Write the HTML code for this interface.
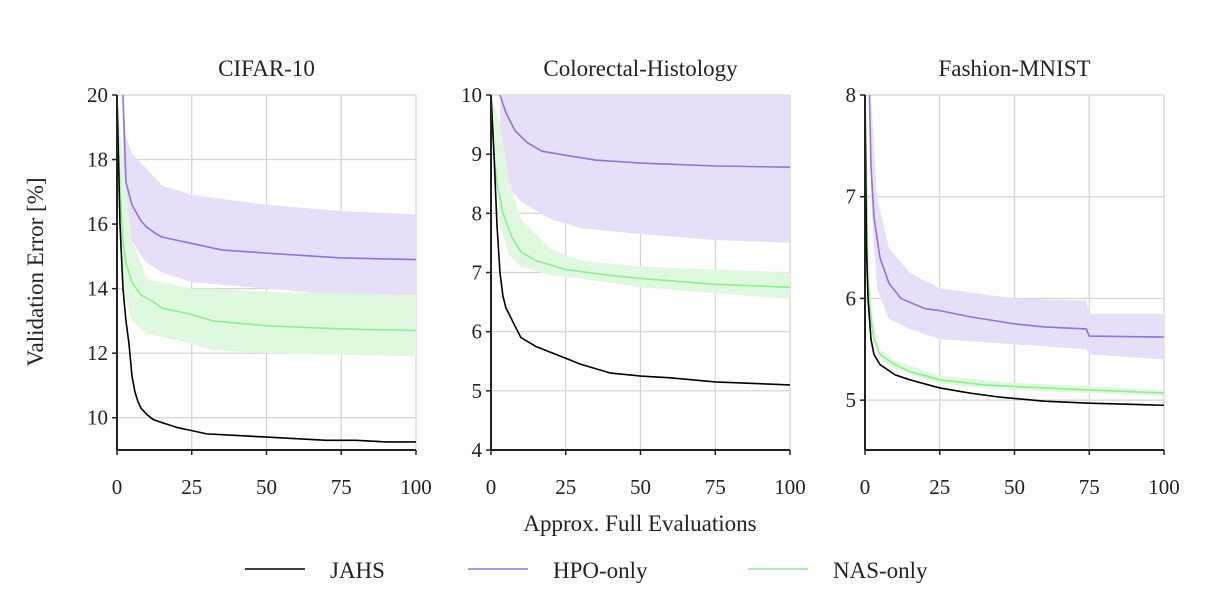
<!DOCTYPE html>
<html><head><meta charset="utf-8"><style>
body{margin:0;background:#fff}
svg text{font-family:"Liberation Serif","DejaVu Serif",serif;fill:#222}
</style></head><body>
<svg id="c" width="1212" height="607" xmlns="http://www.w3.org/2000/svg"></svg>
<script>
// ---- data ----
const xTicks=[0,25,50,75,100];
const panelTitles=["CIFAR-10","Colorectal-Histology","Fashion-MNIST"];
const yTicks0=[10,12,14,16,18,20], yTicks1=[4,5,6,7,8,9,10], yTicks2=[5,6,7,8];
// CIFAR-10
const c_jahs_x=[0,1,2,3,4,5,6,7,8,10,12,15,20,25,30,40,50,60,70,80,90,100];
const c_jahs_y=[20,16,14,13,12.3,11.3,10.8,10.5,10.3,10.1,9.95,9.85,9.7,9.6,9.5,9.45,9.4,9.35,9.3,9.3,9.25,9.25];
const c_hpo_x=[2,3,5,8,10,13,15,20,25,35,50,75,100];
const c_hpo_y=[20,17.3,16.6,16.1,15.9,15.7,15.6,15.5,15.4,15.2,15.1,14.95,14.9];
const c_hpo_bx=[2,3,5,8,10,15,25,50,75,100];
const c_hpo_hi=[20,18.7,18.2,17.9,17.7,17.2,16.9,16.6,16.4,16.3];
const c_hpo_lo=[17,16,15.5,15.0,14.8,14.5,14.2,14.0,13.8,13.6];
const c_nas_x=[0,1,2,3,5,8,12,15,20,25,32,50,75,100];
const c_nas_y=[20,17,15.5,14.8,14.2,13.8,13.6,13.4,13.3,13.2,13.0,12.85,12.75,12.7];
const c_nas_bx=[0,2,5,10,25,32,50,100];
const c_nas_hi=[20,18,15.5,14.3,14.0,14.0,13.9,13.8];
const c_nas_lo=[20,14,13,12.6,12.3,12.1,12.0,11.9];
// Colorectal
const h_jahs_x=[0,1,2,3,4,5,7,10,15,20,25,30,40,50,60,75,100];
const h_jahs_y=[10,9,7.8,7.0,6.6,6.4,6.2,5.9,5.75,5.65,5.55,5.45,5.3,5.25,5.22,5.15,5.1];
const h_hpo_x=[3,5,8,12,17,25,35,50,75,100];
const h_hpo_y=[10,9.7,9.4,9.2,9.05,8.98,8.9,8.85,8.8,8.78];
const h_hpo_bx=[3,5,10,20,30,50,75,100];
const h_hpo_hi=[10,10,10,10,10,10,10,10];
const h_hpo_lo=[9.0,8.5,8.2,7.9,7.75,7.65,7.55,7.5];
const h_nas_x=[0,1,2,4,7,10,15,25,40,50,75,100];
const h_nas_y=[10,9,8.5,8.0,7.6,7.35,7.2,7.05,6.95,6.9,6.8,6.75];
const h_nas_bx=[0,3,6,10,20,30,50,100];
const h_nas_hi=[10,9.5,8.6,7.9,7.4,7.2,7.1,7.0];
const h_nas_lo=[10,7.8,7.3,7.1,6.95,6.9,6.75,6.55];
// Fashion-MNIST
const f_jahs_x=[0,0.5,1,2,3,5,10,15,25,35,45,60,75,100];
const f_jahs_y=[8,6.5,6.0,5.6,5.45,5.35,5.25,5.2,5.12,5.07,5.03,4.99,4.97,4.95];
const f_hpo_x=[1.5,2,3,5,8,12,20,25,35,50,60,74,75,100];
const f_hpo_y=[8,7.3,6.8,6.4,6.15,6.0,5.9,5.88,5.82,5.75,5.72,5.7,5.63,5.62];
const f_hpo_bx=[2,4,8,15,25,50,74,75,100];
const f_hpo_hi=[8,7.0,6.5,6.25,6.1,6.0,5.98,5.85,5.85];
const f_hpo_lo=[7,6.1,5.8,5.7,5.6,5.55,5.5,5.45,5.4];
const f_nas_x=[0,1,2,3,5,10,15,25,40,60,75,100];
const f_nas_y=[8,6.2,5.8,5.6,5.45,5.35,5.28,5.2,5.15,5.12,5.1,5.07];
const f_nas_bx=[0,1,2,5,10,25,50,100];
const f_nas_hi=[8,6.4,5.9,5.5,5.39,5.24,5.17,5.1];
const f_nas_lo=[8,6.0,5.7,5.4,5.31,5.16,5.1,5.04];

const NS="http://www.w3.org/2000/svg", svg=document.getElementById('c');
function mk(t,a,p){const e=document.createElementNS(NS,t);for(const k in a)e.setAttribute(k,a[k]);(p||svg).appendChild(e);return e;}
const HPO="#9370db",NAS="#90ee90",HPOB="#e6dff7",NASB="#e0f7e0";
const panels=[
 {x0:117,ymin:9,ymax:20,yt:yTicks0,d:[[c_hpo_bx,c_hpo_hi,c_hpo_lo,HPOB],[c_nas_bx,c_nas_hi,c_nas_lo,NASB]],l:[[c_nas_x,c_nas_y,NAS],[c_hpo_x,c_hpo_y,HPO],[c_jahs_x,c_jahs_y,"#000"]]},
 {x0:491,ymin:4,ymax:10,yt:yTicks1,d:[[h_hpo_bx,h_hpo_hi,h_hpo_lo,HPOB],[h_nas_bx,h_nas_hi,h_nas_lo,NASB]],l:[[h_nas_x,h_nas_y,NAS],[h_hpo_x,h_hpo_y,HPO],[h_jahs_x,h_jahs_y,"#000"]]},
 {x0:865,ymin:4.51,ymax:8,yt:yTicks2,d:[[f_hpo_bx,f_hpo_hi,f_hpo_lo,HPOB],[f_nas_bx,f_nas_hi,f_nas_lo,NASB]],l:[[f_nas_x,f_nas_y,NAS],[f_hpo_x,f_hpo_y,HPO],[f_jahs_x,f_jahs_y,"#000"]]}
];
const T=95,B=450,W=299;
panels.forEach((p,i)=>{
 const g=mk('g',{});
 
 
 const sx=v=>p.x0+v/100*W, sy=v=>B-(v-p.ymin)/(p.ymax-p.ymin)*(B-T);
 const clip=mk('clipPath',{id:'cl'+i},g);mk('rect',{x:p.x0,y:T,width:W,height:B-T},clip);
 xTicks.forEach(v=>{const l=mk('line',{x1:sx(v),x2:sx(v),y1:T,y2:B,stroke:"#d3d3d3","stroke-width":1.2},g);
  
  const t=mk('text',{x:sx(v),y:494,"text-anchor":"middle","font-size":21},g);t.textContent=v;
  
  mk('line',{x1:sx(v),x2:sx(v),y1:B,y2:B+5,stroke:"#222","stroke-width":1.5},g);});
 p.yt.forEach(v=>{const l=mk('line',{x1:p.x0,x2:p.x0+W,y1:sy(v),y2:sy(v),stroke:"#d3d3d3","stroke-width":1.2},g);
  
  const t=mk('text',{x:p.x0-9,y:sy(v)+7,"text-anchor":"end","font-size":21},g);t.textContent=v;
  
  mk('line',{x1:p.x0-5,x2:p.x0,y1:sy(v),y2:sy(v),stroke:"#222","stroke-width":1.5},g);});
 const cg=mk('g',{"clip-path":`url(#cl${i})`},g);
 p.d.forEach(([xs,hi,lo,col])=>{
  const up=xs.map((x,k)=>sx(x)+','+sy(hi[k]));
  const dn=xs.map((x,k)=>sx(x)+','+sy(lo[k])).reverse();
  const e=mk('polygon',{points:up.concat(dn).join(' '),fill:col,stroke:"none"},cg);
  });
 p.l.forEach(([xs,ys,col])=>{
  const d=xs.map((x,k)=>(k?'L':'M')+sx(x)+','+sy(ys[k])).join('');
  const e=mk('path',{d:d,fill:"none",stroke:col,"stroke-width":1.6,"stroke-linejoin":"round"},cg);
  });
 mk('line',{x1:p.x0,x2:p.x0,y1:T,y2:B,stroke:"#222","stroke-width":2},g);
 mk('line',{x1:p.x0,x2:p.x0+W,y1:B,y2:B,stroke:"#222","stroke-width":2},g);
 const tt=mk('text',{x:p.x0+W/2,y:76,"text-anchor":"middle","font-size":23},g);tt.textContent=panelTitles[i];
 
});
let t=mk('text',{x:640,y:531,"text-anchor":"middle","font-size":23});t.textContent="Approx. Full Evaluations";

t=mk('text',{x:0,y:0,"text-anchor":"middle","font-size":23,transform:"translate(43,272) rotate(-90)"});t.textContent="Validation Error [%]";

[["JAHS","#000",245],["HPO-only",HPO,468],["NAS-only",NAS,748]].forEach(([n,c,x])=>{
 const g=mk('g',{});
 
 mk('line',{x1:x,x2:x+60,y1:569,y2:569,stroke:c,"stroke-width":1.6},g);
 const tx=mk('text',{x:x+85,y:578,"font-size":23},g);tx.textContent=n;});
</script>
</body></html>
